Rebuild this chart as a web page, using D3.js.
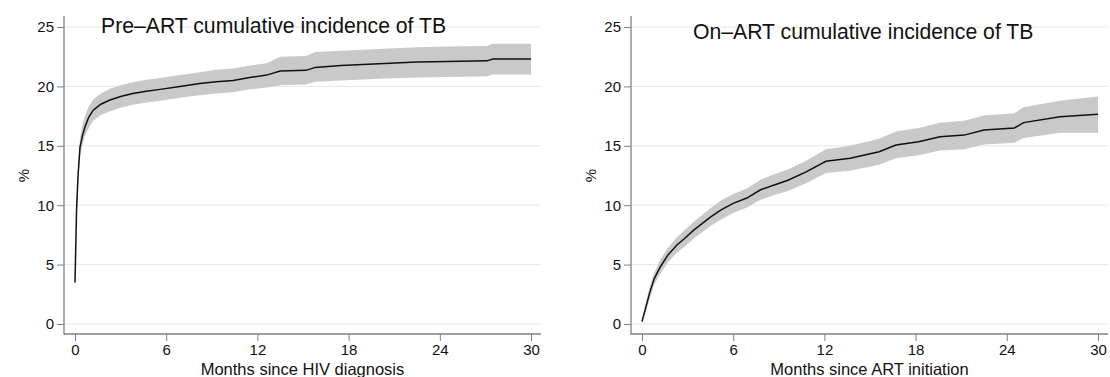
<!DOCTYPE html>
<html>
<head>
<meta charset="utf-8">
<script src="https://cdn.jsdelivr.net/npm/d3@7"></script>
<style>
  body { margin: 0; background: #fff; }
  text { font-family: "Liberation Sans", Arial, sans-serif; fill: #111; }
</style>
</head>
<body>
<div id="chart"></div>
<script>
// Pre-ART panel (months since HIV diagnosis)
const preMonths = [0, 0.05, 0.1, 0.2, 0.33, 0.5, 0.66, 0.9, 1.2, 1.7, 2.3, 3.0, 3.8, 4.7, 5.6, 6.9, 8.2, 9.3, 10.4, 11.5, 12.6, 13.5, 15.2, 15.8, 17.5, 20.0, 22.5, 24.5, 27.1, 27.5, 30];
const preEst   = [3.5, 6.5, 9.5, 12.5, 14.9, 15.9, 16.6, 17.4, 18.0, 18.5, 18.85, 19.15, 19.4, 19.6, 19.75, 20.0, 20.25, 20.4, 20.5, 20.75, 20.95, 21.3, 21.35, 21.6, 21.75, 21.9, 22.05, 22.1, 22.15, 22.3, 22.3];
const preLow   = [3.0, 5.8, 8.8, 11.8, 14.1, 15.1, 15.8, 16.5, 17.1, 17.6, 17.9, 18.2, 18.45, 18.65, 18.8, 19.05, 19.25, 19.4, 19.5, 19.75, 19.9, 20.1, 20.15, 20.4, 20.5, 20.65, 20.75, 20.8, 20.85, 21.0, 21.0];
const preHigh  = [4.0, 7.2, 10.3, 13.3, 15.7, 16.8, 17.5, 18.3, 18.9, 19.4, 19.8, 20.1, 20.35, 20.55, 20.7, 20.95, 21.2, 21.4, 21.5, 21.75, 21.95, 22.5, 22.55, 22.9, 23.0, 23.15, 23.3, 23.35, 23.4, 23.6, 23.6];

// On-ART panel (months since ART initiation)
const onMonths = [0, 0.25, 0.5, 0.8, 1.2, 1.7, 2.3, 2.8, 3.4, 4.5, 5.2, 6.0, 6.9, 7.8, 8.7, 9.6, 10.8, 12.1, 13.7, 15.6, 16.7, 18.2, 19.6, 21.2, 22.5, 24.5, 25.1, 27.5, 30];
const onEst    = [0.2, 1.4, 2.6, 3.8, 4.8, 5.8, 6.65, 7.2, 7.9, 9.0, 9.6, 10.15, 10.6, 11.3, 11.7, 12.1, 12.8, 13.7, 13.95, 14.5, 15.07, 15.35, 15.77, 15.9, 16.33, 16.5, 16.95, 17.45, 17.65];
const onLow    = [0.1, 1.0, 2.1, 3.3, 4.2, 5.2, 6.0, 6.5, 7.2, 8.25, 8.8, 9.35, 9.8, 10.45, 10.85, 11.2, 11.85, 12.7, 12.9, 13.4, 13.95, 14.2, 14.6, 14.7, 15.1, 15.25, 15.65, 16.1, 16.1];
const onHigh   = [0.4, 1.8, 3.1, 4.3, 5.4, 6.4, 7.3, 7.9, 8.6, 9.75, 10.4, 10.95, 11.4, 12.15, 12.6, 13.0, 13.75, 14.7, 15.0, 15.6, 16.2, 16.5, 16.95, 17.1, 17.55, 17.75, 18.25, 18.8, 19.15];

const xTicks = [0, 6, 12, 18, 24, 30];
const yTicks = [0, 5, 10, 15, 20, 25];

const svg = d3.select("#chart").append("svg")
    .attr("width", 1110)
    .attr("height", 377);

function drawPanel(p) {
    const x = d3.scaleLinear().domain([0, 30]).range([p.x0, p.x0 + 456]);
    const y = d3.scaleLinear().domain([0, 25]).range([324, 27]);
    const left = p.x0 - 11, right = p.x0 + 466;
    const g = svg.append("g");

    // gridlines
    g.selectAll(".grid").data(yTicks).enter().append("line")
        .attr("x1", left).attr("x2", right)
        .attr("y1", d => y(d)).attr("y2", d => y(d))
        .attr("stroke", "#e6e6e6").attr("stroke-width", 1);

    const data = p.months.map((m, i) => ({ m: m, est: p.est[i], lo: p.lo[i], hi: p.hi[i] }));

    // confidence band
    g.append("path").datum(data)
        .attr("fill", "#c9c9c9")
        .attr("d", d3.area().x(d => x(d.m)).y0(d => y(d.lo)).y1(d => y(d.hi)));

    // estimate
    g.append("path").datum(data)
        .attr("fill", "none").attr("stroke", "#111").attr("stroke-width", 1.5)
        .attr("d", d3.line().x(d => x(d.m)).y(d => y(d.est)));

    // axes
    const yAxis = g.append("g").attr("transform", `translate(${left},0)`)
        .call(d3.axisLeft(y).tickValues(yTicks).tickSize(7).tickPadding(3).tickSizeOuter(0));
    yAxis.select(".domain").remove();
    const xAxis = g.append("g").attr("transform", "translate(0,334)")
        .call(d3.axisBottom(x).tickValues(xTicks).tickSize(7).tickPadding(3).tickSizeOuter(0));
    xAxis.select(".domain").remove();
    g.selectAll(".tick line").attr("stroke", "#808080");
    g.selectAll(".tick text").attr("font-size", 15).style("font-family", "'Liberation Sans', Arial, sans-serif").attr("fill", "#111");

    g.append("line").attr("x1", left).attr("x2", left).attr("y1", 16).attr("y2", 334.5)
        .attr("stroke", "#808080").attr("stroke-width", 1.3);
    g.append("line").attr("x1", left).attr("x2", right).attr("y1", 334).attr("y2", 334)
        .attr("stroke", "#808080").attr("stroke-width", 1.3);

    // labels
    g.append("text").attr("x", p.titleX).attr("y", p.titleY)
        .attr("font-size", 21.2).text(p.title);
    g.append("text").attr("x", (left + right) / 2).attr("y", 375)
        .attr("text-anchor", "middle").attr("font-size", 16.5).text(p.xLabel);
    g.append("text")
        .attr("transform", `translate(${left - 35},${y(12.5)}) rotate(-90)`)
        .attr("text-anchor", "middle").attr("font-size", 15).text("%");
}

drawPanel({ x0: 75, months: preMonths, est: preEst, lo: preLow, hi: preHigh,
    title: "Pre\u2013ART cumulative incidence of TB", titleX: 101, titleY: 33,
    xLabel: "Months since HIV diagnosis" });
drawPanel({ x0: 642, months: onMonths, est: onEst, lo: onLow, hi: onHigh,
    title: "On\u2013ART cumulative incidence of TB", titleX: 693, titleY: 39,
    xLabel: "Months since ART initiation" });
</script>
</body>
</html>
